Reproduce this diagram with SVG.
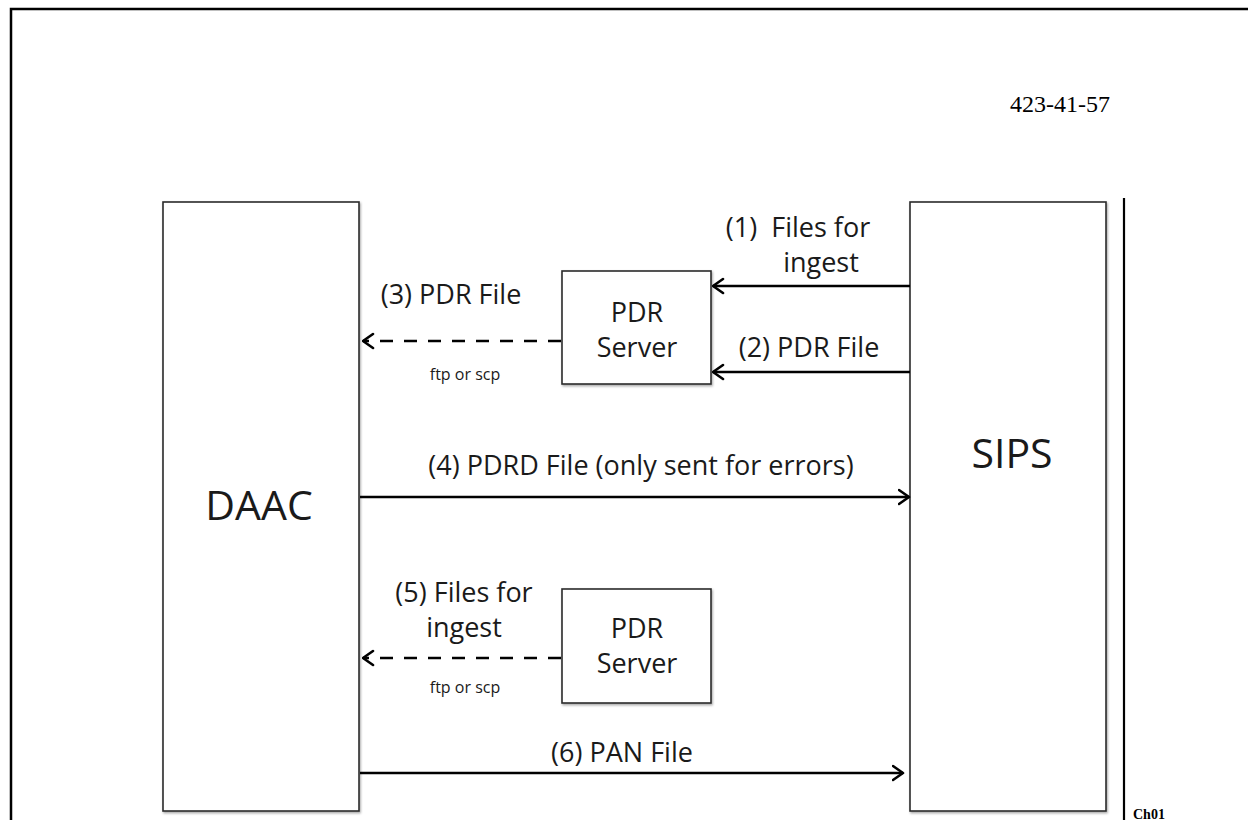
<svg xmlns="http://www.w3.org/2000/svg" width="1248" height="820" viewBox="0 0 1248 820">
  <style>
    .frame { stroke: #000; stroke-width: 2.5; fill: none; }
    .box { fill: #fff; stroke: #2a2a2a; stroke-width: 1.6; filter: url(#shadow); }
    .lbl { font-family: "Open Sans", "Liberation Sans", sans-serif; font-size: 27px; fill: #1a1a1a; text-anchor: middle; }
    .big { font-family: "Open Sans", "Liberation Sans", sans-serif; font-size: 41px; fill: #1a1a1a; text-anchor: middle; }
    .small { font-family: "Open Sans", "Liberation Sans", sans-serif; font-size: 16px; fill: #1a1a1a; text-anchor: middle; }
    .solid { stroke: #000; stroke-width: 2.6; fill: none; marker-end: url(#chev); }
    .dash { stroke: #000; stroke-width: 2.6; fill: none; stroke-dasharray: 13 11; marker-end: url(#chev); }
    .serif { font-family: "Liberation Serif", "Times New Roman", serif; fill: #000; }
  </style>
  <defs>
    <filter id="shadow" x="-5%" y="-5%" width="110%" height="110%">
      <feDropShadow dx="1" dy="1.5" stdDeviation="1" flood-color="#000" flood-opacity="0.35"/>
    </filter>
    <marker id="chev" markerUnits="userSpaceOnUse" viewBox="0 0 13 18" refX="11.5" refY="9" markerWidth="13" markerHeight="18" orient="auto">
      <path d="M1.5,2 L11.5,9 L1.5,16" fill="none" stroke="#000" stroke-width="2.6" stroke-linejoin="round" stroke-linecap="round"/>
    </marker>
  </defs>
  <rect width="1248" height="820" fill="#fff"/>

  <g id="frame">
    <path class="frame" d="M11,820 L11,9 L1248,9"/>
    <line x1="1124" y1="198" x2="1124" y2="820" stroke="#000" stroke-width="2.2"/>
    <text class="serif" x="1010" y="112" font-size="24">423-41-57</text>
    <text class="serif" x="1133" y="819" font-size="14" font-weight="bold">Ch01</text>
  </g>

  <g id="daac">
    <rect class="box" x="163" y="202" width="196" height="609"/>
    <text class="big" x="259" y="520">DAAC</text>
  </g>

  <g id="sips">
    <rect class="box" x="910" y="202" width="196" height="609"/>
    <text class="big" x="1012" y="468">SIPS</text>
  </g>

  <g id="pdr-server-1">
    <rect class="box" x="562" y="271" width="149" height="113"/>
    <text class="lbl" x="637" y="322">PDR</text>
    <text class="lbl" x="637" y="357">Server</text>
  </g>

  <g id="pdr-server-2">
    <rect class="box" x="562" y="589" width="149" height="114"/>
    <text class="lbl" x="637" y="638">PDR</text>
    <text class="lbl" x="637" y="673">Server</text>
  </g>

  <g id="connectors">
    <line class="solid" x1="910" y1="286" x2="713" y2="286"/>
    <line class="solid" x1="910" y1="372" x2="713" y2="372"/>
    <line class="dash" x1="561" y1="341" x2="363" y2="341"/>
    <line class="solid" x1="360" y1="497" x2="909" y2="497"/>
    <line class="dash" x1="561" y1="658" x2="363" y2="658"/>
    <line class="solid" x1="360" y1="773" x2="903" y2="773"/>

    <text class="lbl" x="798" y="237" xml:space="preserve">(1)  Files for</text>
    <text class="lbl" x="821" y="272">ingest</text>
    <text class="lbl" x="809" y="357">(2) PDR File</text>
    <text class="lbl" x="451" y="304">(3) PDR File</text>
    <text class="small" x="465" y="380">ftp or scp</text>
    <text class="lbl" x="641" y="475">(4) PDRD File (only sent for errors)</text>
    <text class="lbl" x="464" y="602">(5) Files for</text>
    <text class="lbl" x="464" y="637">ingest</text>
    <text class="small" x="465" y="693">ftp or scp</text>
    <text class="lbl" x="622" y="762">(6) PAN File</text>
  </g>
</svg>
